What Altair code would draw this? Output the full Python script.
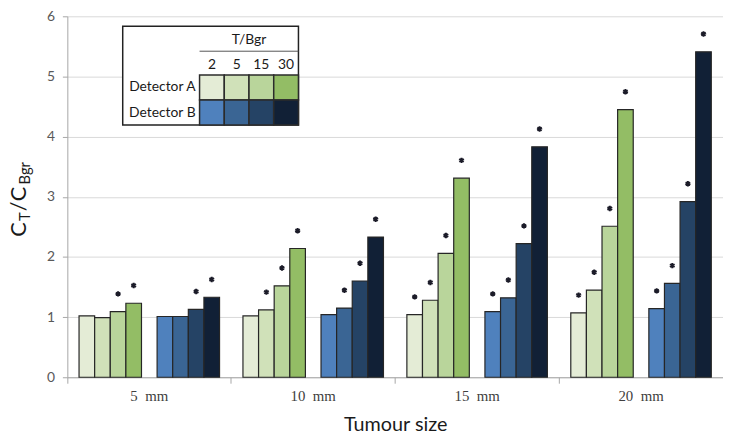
import altair as alt
import pandas as pd

# ---------------- data ----------------
sizes = ["5 mm", "10 mm", "15 mm", "20 mm"]
ratios = ["2", "5", "15", "30"]

# Detector A, one list per T/Bgr ratio (values for 5, 10, 15, 20 mm)
det_a_2 = [1.02, 1.02, 1.04, 1.07]
det_a_5 = [0.99, 1.12, 1.28, 1.45]
det_a_15 = [1.09, 1.52, 2.06, 2.51]
det_a_30 = [1.23, 2.14, 3.31, 4.45]
# Detector B
det_b_2 = [1.01, 1.04, 1.09, 1.14]
det_b_5 = [1.01, 1.15, 1.32, 1.56]
det_b_15 = [1.13, 1.60, 2.22, 2.92]
det_b_30 = [1.33, 2.33, 3.83, 5.41]

# significance markers (asterisks)
star_a_2 = [False, False, True, True]
star_a_5 = [False, True, True, True]
star_a_15 = [True, True, True, True]
star_a_30 = [True, True, True, True]
star_b_2 = [False, False, True, True]
star_b_5 = [False, True, True, True]
star_b_15 = [True, True, True, True]
star_b_30 = [True, True, True, True]

series_keys = ["A2", "A5", "A15", "A30", "B2", "B5", "B15", "B30"]
series_colors = ["#e4ecd6", "#d0e1b9", "#b9d59b", "#93bd65",
                 "#4f81bd", "#3a6594", "#254365", "#112036"]
offset_domain = ["A2", "A5", "A15", "A30", "gap", "B2", "B5", "B15", "B30"]

values = [det_a_2, det_a_5, det_a_15, det_a_30, det_b_2, det_b_5, det_b_15, det_b_30]
stars = [star_a_2, star_a_5, star_a_15, star_a_30, star_b_2, star_b_5, star_b_15, star_b_30]

rows = []
for key, vals, st in zip(series_keys, values, stars):
    for s, v, f in zip(sizes, vals, st):
        rows.append({"size": s, "series": key, "value": v, "star": f})
df = pd.DataFrame(rows)

legend_rows = []
for det, prefix in [("Detector A", "A"), ("Detector B", "B")]:
    for r in ratios:
        legend_rows.append({"det": det, "tb": r, "series": prefix + r})
legend_df = pd.DataFrame(legend_rows)

# ---------------- layout constants ----------------
W, H = 663, 365
TOP = 6
FONT = "Lato"

x_scale = alt.Scale(domain=sizes, paddingInner=0, paddingOuter=0)
off_scale = alt.Scale(domain=offset_domain, paddingInner=0, paddingOuter=0.75)
y_scale = alt.Scale(domain=[0, 6])
col_scale = alt.Scale(domain=series_keys, range=series_colors)

bars = alt.Chart(df).mark_bar(stroke="#262626", strokeWidth=1.2).encode(
    x=alt.X("size:N", sort=sizes, scale=x_scale,
            axis=alt.Axis(title="Tumour size", bandPosition=0,
                          labelAngle=0, grid=False, tickSize=6, tickColor="#a6a6a6",
                          domainColor="#a6a6a6", labelFont="Liberation Serif",
                          labelFontSize=15, labelColor="#404040", labelPadding=5,
                          labelExpr="replace(datum.label, ' ', '\u00a0\u00a0')",
                          titleFont=FONT, titleFontSize=20, titleFontWeight="normal",
                          titleColor="#1a1a1a", titlePadding=12)),
    xOffset=alt.XOffset("series:N", scale=off_scale),
    y=alt.Y("value:Q", scale=y_scale,
            axis=alt.Axis(title=None, values=[0, 1, 2, 3, 4, 5, 6], grid=True,
                          gridColor="#d9d9d9", tickSize=5, tickColor="#a6a6a6",
                          domainColor="#a6a6a6", labelFont=FONT, labelFontSize=14,
                          labelColor="#595959", labelPadding=8)),
    color=alt.Color("series:N", scale=col_scale, legend=None),
)

star_marks = alt.Chart(df).transform_filter("datum.star").mark_point(
    shape="M0,-1L0,1M-0.87,-0.5L0.87,0.5M-0.87,0.5L0.87,-0.5",
    size=30, stroke="#1b1b28", strokeWidth=2, filled=False, opacity=1, yOffset=-18,
).encode(
    x=alt.X("size:N", sort=sizes, scale=x_scale, axis=None),
    xOffset=alt.XOffset("series:N", scale=off_scale),
    y=alt.Y("value:Q", scale=y_scale, axis=None),
)

# ---------------- legend table ----------------
LX0, LX1 = 133.7, 233.7
LY0, LY1 = 73.3 - 8 - TOP, 124.0 - 8 - TOP
leg_x = alt.Scale(domain=ratios, range=[LX0, LX1], paddingInner=0, paddingOuter=0)
leg_y = alt.Scale(domain=["Detector A", "Detector B"], range=[LY0, LY1],
                  paddingInner=0, paddingOuter=0)

one = pd.DataFrame({"k": [0]})
box = alt.Chart(one).mark_rect(fill="white", stroke="#222222", strokeWidth=1.5).encode(
    x=alt.value(56), x2=alt.value(LX1), y=alt.value(24 - 8 - TOP), y2=alt.value(LY1))

cells = alt.Chart(legend_df).mark_rect(stroke="#2b2b2b", strokeWidth=1.5).encode(
    x=alt.X("tb:N", sort=ratios, scale=leg_x, axis=None),
    y=alt.Y("det:N", scale=leg_y, axis=None),
    color=alt.Color("series:N", scale=col_scale, legend=None),
)

col_labels = alt.Chart(pd.DataFrame({"tb": ratios})).mark_text(
    font=FONT, fontSize=14, color="#1a1a1a", baseline="middle").encode(
    x=alt.X("tb:N", sort=ratios, scale=leg_x, axis=None),
    y=alt.value(63.3 - 8 - TOP), text="tb:N")

row_labels = alt.Chart(pd.DataFrame({"det": ["Detector A", "Detector B"]})).mark_text(
    font=FONT, fontSize=14, color="#1a1a1a", baseline="middle", align="right").encode(
    y=alt.Y("det:N", scale=leg_y, axis=None),
    x=alt.value(LX0 - 4), text="det:N")

header = alt.Chart(one).mark_text(
    text="T/Bgr", font=FONT, fontSize=14, color="#1a1a1a", baseline="middle").encode(
    x=alt.value((LX0 + LX1) / 2), y=alt.value(38.3 - 8 - TOP))

header_line = alt.Chart(one).mark_rule(color="#555555", strokeWidth=1).encode(
    x=alt.value(LX0), x2=alt.value(LX1), y=alt.value(49.3 - 8 - TOP))

# ---------------- y-axis title with subscripts ----------------
title_parts = [
    ("C", 22, -42, 237 - 8 - TOP),
    ("T", 15, -38, 221 - 8 - TOP),
    ("/", 22, -42, 211 - 8 - TOP),
    ("C", 22, -42, 201 - 8 - TOP),
    ("Bgr", 15, -38, 184 - 8 - TOP),
]
ytitle_layers = []
for txt, fs, px, py in title_parts:
    ytitle_layers.append(
        alt.Chart(one).mark_text(text=txt, font=FONT, fontSize=fs, color="#1a1a1a",
                                 angle=270, align="left", baseline="alphabetic").encode(
            x=alt.value(px), y=alt.value(py)))

chart = alt.layer(
    bars, star_marks, box, cells, header_line, col_labels, row_labels, header,
    *ytitle_layers,
).resolve_scale(
    x="independent", y="independent", color="independent"
).properties(
    width=W, height=H,
    padding={"left": 60, "top": TOP, "right": 0, "bottom": 58},
    autosize=alt.AutoSizeParams(type="none"),
).configure_view(stroke=None)

chart.save("out.html", embed_options={"renderer": "svg", "actions": False})
